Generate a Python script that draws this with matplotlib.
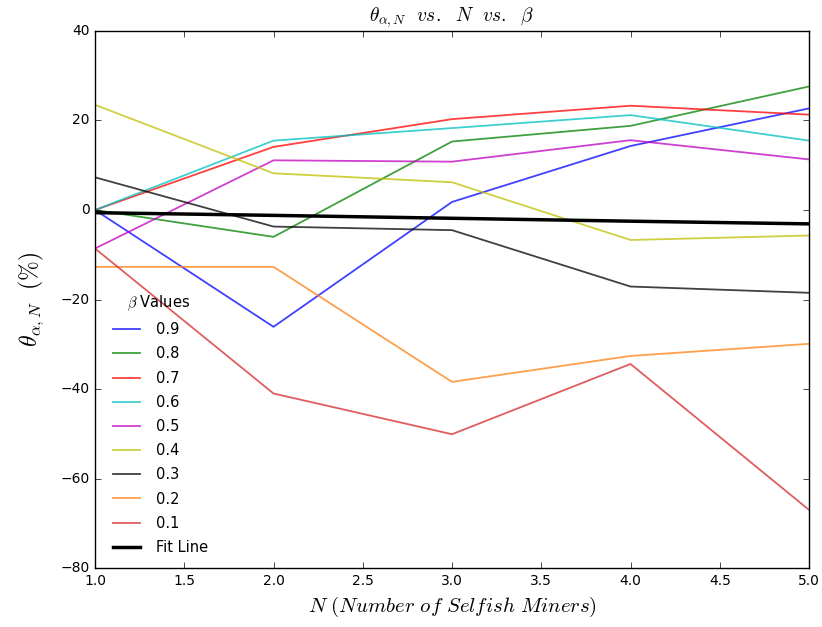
import matplotlib
matplotlib.use("Agg")
import matplotlib.pyplot as plt

plt.style.use("classic")
plt.rcParams["mathtext.fontset"] = "cm"
plt.rcParams["font.family"] = ["DejaVu Sans"]

n_miners = [1, 2, 3, 4, 5]
beta_labels = ["0.9", "0.8", "0.7", "0.6", "0.5", "0.4", "0.3", "0.2", "0.1"]
theta = [
    [0.0, -26.1, 1.8, 14.3, 22.7],     # 0.9
    [0.0, -6.0, 15.3, 18.8, 27.6],     # 0.8
    [0.0, 14.1, 20.3, 23.3, 21.3],     # 0.7
    [0.0, 15.5, 18.3, 21.2, 15.5],     # 0.6
    [-8.6, 11.1, 10.8, 15.6, 11.3],    # 0.5
    [23.5, 8.2, 6.2, -6.7, -5.7],      # 0.4
    [7.3, -3.7, -4.5, -17.1, -18.5],   # 0.3
    [-12.7, -12.7, -38.4, -32.6, -29.9],  # 0.2
    [-8.6, -41.0, -50.1, -34.4, -67.0],   # 0.1
]
fit_line = [-0.6, -1.2, -1.85, -2.5, -3.1]

colors = ["b", "g", "r", "c", "m", "y", "k", "#ff7f0e", "#d62728"]

fig = plt.figure(figsize=(8.22, 6.27), dpi=100, facecolor="white")
ax = fig.add_axes([0.1156, 0.094, 0.8686, 0.8566])

for vals, lab, c in zip(theta, beta_labels, colors):
    ax.plot(n_miners, vals, color=c, alpha=0.75, linewidth=1.3, label=lab)
ax.plot(n_miners, fit_line, color="k", linewidth=2.5, label="Fit Line")

ax.set_xlim(1, 5)
ax.set_ylim(-80, 40)
ax.tick_params(labelsize=10)
ax.set_title(r"$\theta_{\alpha,N}\ \ vs.\ \ N\ \ vs.\ \ \beta$", fontsize=14, y=1.005)
ax.set_xlabel(r"$N\ (Number\ of\ Selfish\ Miners)$", fontsize=15)
ax.set_ylabel(r"$\theta_{\alpha,N}\ \ (\%)$", fontsize=17, labelpad=10)

leg = ax.legend(loc="lower left", frameon=False, fontsize=10.5,
                title=r"$\beta$ Values", handlelength=2.5, labelspacing=0.63)
leg.get_title().set_fontsize(10.5)

fig.savefig("out.png", dpi=100, facecolor="white")
